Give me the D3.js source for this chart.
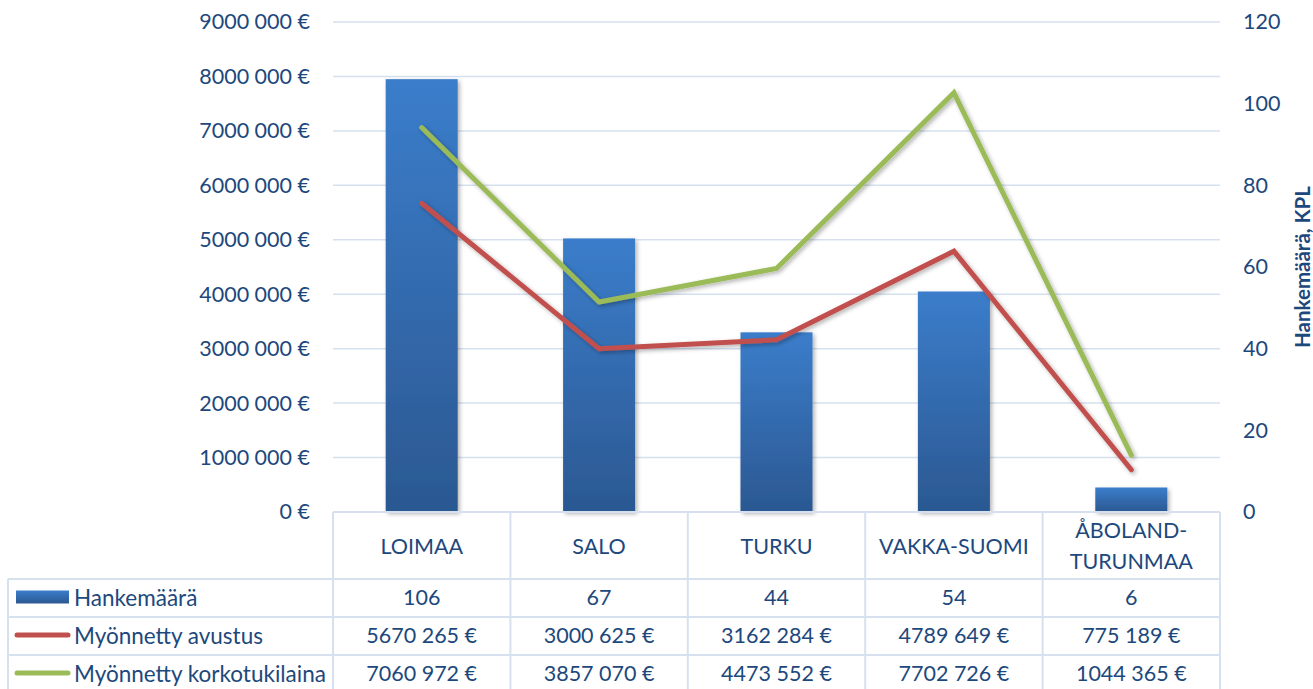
<!DOCTYPE html>
<meta charset="utf-8">
<body style="margin:0;background:#fff">
<script src="https://d3js.org/d3.v7.min.js"></script>
<div id="chart"></div>
<script>

var regions = ["LOIMAA", "SALO", "TURKU", "VAKKA-SUOMI", "ÅBOLAND-TURUNMAA"]
var regionLines = [["LOIMAA"], ["SALO"], ["TURKU"], ["VAKKA-SUOMI"], ["ÅBOLAND-", "TURUNMAA"]]
var projects = [106, 67, 44, 54, 6]
var grants = [5670265, 3000625, 3162284, 4789649, 775189]
var loans = [7060972, 3857070, 4473552, 7702726, 1044365]
var leftTicks = [0, 1000000, 2000000, 3000000, 4000000, 5000000, 6000000, 7000000, 8000000, 9000000]
var rightTicks = [0, 20, 40, 60, 80, 100, 120]
var rightTitle = "Hankemäärä, KPL"

var width = 1313, height = 689
var plot = {left: 333, right: 1220, top: 22, bottom: 512}
var textColor = "#1d487c", gridColor = "#d6e1f0"
var font = "Lato, 'Open Sans', sans-serif"
var fs = "21.5px"

// format like "5670 265 €" (only the last group separated)
function euro(v) {
  if (v < 1000) return v + " €"
  var rest = String(v % 1000).padStart(3, "0")
  return Math.floor(v / 1000) + " " + rest + " €"
}

var svg = d3.select("#chart").append("svg")
  .attr("width", width)
  .attr("height", height)
  .style("font-family", font)

var defs = svg.append("defs")
var grad = defs.append("linearGradient").attr("id", "barGrad")
  .attr("x1", 0).attr("y1", 0).attr("x2", 0).attr("y2", 1)
grad.append("stop").attr("offset", "0%").attr("stop-color", "#3b7dcb")
grad.append("stop").attr("offset", "100%").attr("stop-color", "#2b5891")

var shadow = defs.append("filter").attr("id", "shadow")
  .attr("x", "-20%").attr("y", "-20%").attr("width", "140%").attr("height", "140%")
shadow.append("feDropShadow").attr("dx", 2).attr("dy", 2).attr("stdDeviation", 2)
  .attr("flood-color", "#000").attr("flood-opacity", 0.3)

// scales
var x = d3.scaleBand().domain(regions).range([plot.left, plot.right]).padding(0)
var yL = d3.scaleLinear().domain([0, 9000000]).range([plot.bottom, plot.top])
var yR = d3.scaleLinear().domain([0, 120]).range([plot.bottom, plot.top])
var barW = x.bandwidth() * 0.406

// gridlines
svg.append("g").selectAll("line")
  .data(leftTicks.slice(1))
  .join("line")
    .attr("x1", plot.left).attr("x2", plot.right)
    .attr("y1", d => yL(d)).attr("y2", d => yL(d))
    .attr("stroke", gridColor).attr("stroke-width", 1.5)

// left axis
var axL = svg.append("g")
  .attr("transform", `translate(${plot.left},0)`)
  .call(d3.axisLeft(yL).tickValues(leftTicks).tickFormat(euro).tickSize(0).tickPadding(23))
axL.select(".domain").remove()
axL.selectAll("text").attr("fill", textColor).style("font-size", fs).style("font-family", font)

// right axis
var axR = svg.append("g")
  .attr("transform", `translate(${plot.right},0)`)
  .call(d3.axisRight(yR).tickValues(rightTicks).tickSize(0).tickPadding(23))
axR.select(".domain").remove()
axR.selectAll("text").attr("fill", textColor).style("font-size", fs).style("font-family", font)

svg.append("text")
  .attr("transform", `translate(1310,${(plot.top + plot.bottom) / 2}) rotate(-90)`)
  .attr("text-anchor", "middle")
  .attr("fill", textColor)
  .style("font-size", "20.5px")
  .style("font-weight", "bold")
  .text(rightTitle)

// bars
svg.append("g").selectAll("rect")
  .data(projects)
  .join("rect")
    .attr("x", (d, i) => x(regions[i]) + (x.bandwidth() - barW) / 2)
    .attr("y", d => yR(d))
    .attr("width", barW)
    .attr("height", d => yR(0) - yR(d))
    .attr("fill", "url(#barGrad)")
    .attr("filter", "url(#shadow)")

// lines
var line = d3.line()
  .x((d, i) => x(regions[i]) + x.bandwidth() / 2)
  .y(d => yL(d))

svg.append("path").datum(grants)
  .attr("d", line)
  .attr("fill", "none").attr("stroke", "#c0504d").attr("stroke-width", 5)
  .attr("stroke-linecap", "round")
  .attr("filter", "url(#shadow)")

svg.append("path").datum(loans)
  .attr("d", line)
  .attr("fill", "none").attr("stroke", "#9bbb59").attr("stroke-width", 5)
  .attr("stroke-linecap", "round")
  .attr("filter", "url(#shadow)")

// data table
var rowY = [plot.bottom, 579, 617, 655, 693]
var tableLeft = 8
var tbl = svg.append("g").attr("stroke", gridColor).attr("stroke-width", 2)

// horizontal lines
tbl.append("line").attr("x1", plot.left).attr("x2", plot.right)
  .attr("y1", rowY[0]).attr("y2", rowY[0])
rowY.slice(1).forEach(function(yy) {
  tbl.append("line").attr("x1", tableLeft).attr("x2", plot.right)
    .attr("y1", yy).attr("y2", yy)
})
// vertical lines
var cols = regions.map(r => x(r)).concat([plot.right])
cols.forEach(function(cx) {
  tbl.append("line").attr("x1", cx).attr("x2", cx)
    .attr("y1", rowY[0]).attr("y2", height)
})
tbl.append("line").attr("x1", tableLeft).attr("x2", tableLeft)
  .attr("y1", rowY[1]).attr("y2", height)

// category labels
var cat = svg.append("g").selectAll("text")
  .data(regionLines)
  .join("text")
    .attr("x", (d, i) => x(regions[i]) + x.bandwidth() / 2)
    .attr("y", d => d.length > 1 ? 530 : 546)
    .attr("text-anchor", "middle")
    .attr("dominant-baseline", "central")
    .attr("fill", textColor)
    .style("font-size", fs)
cat.selectAll("tspan")
  .data(d => d)
  .join("tspan")
    .attr("x", function() { return d3.select(this.parentNode).attr("x") })
    .attr("dy", (d, i) => i === 0 ? 0 : 31)
    .text(d => d)

// table rows
var rows = [
  {name: "Hankemäärä", values: projects.map(String), key: "bar"},
  {name: "Myönnetty avustus", values: grants.map(euro), key: "#c0504d"},
  {name: "Myönnetty korkotukilaina", values: loans.map(euro), key: "#9bbb59"}
]

rows.forEach(function(r, ri) {
  var cy = (rowY[ri + 1] + rowY[ri + 2]) / 2 - 1
  if (r.key === "bar") {
    svg.append("rect").attr("x", 16).attr("y", cy - 6.5).attr("width", 53).attr("height", 13)
      .attr("fill", "url(#barGrad)")
  } else {
    svg.append("line").attr("x1", 17).attr("x2", 68).attr("y1", cy).attr("y2", cy)
      .attr("stroke", r.key).attr("stroke-width", 5).attr("stroke-linecap", "round")
  }
  svg.append("text").attr("x", 74).attr("y", cy)
    .attr("dominant-baseline", "central")
    .attr("fill", textColor).style("font-size", "22.5px")
    .text(r.name)
  svg.append("g").selectAll("text")
    .data(r.values)
    .join("text")
      .attr("x", (d, i) => x(regions[i]) + x.bandwidth() / 2)
      .attr("y", cy)
      .attr("text-anchor", "middle")
      .attr("dominant-baseline", "central")
      .attr("fill", textColor)
      .style("font-size", fs)
      .text(d => d)
})

</script>
</body>
